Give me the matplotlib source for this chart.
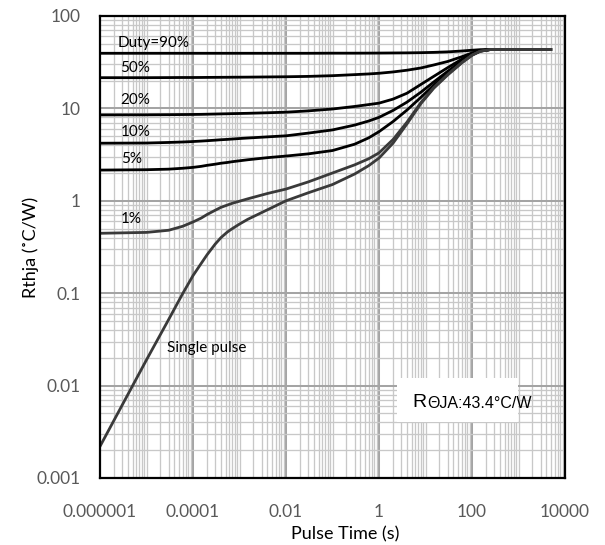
import matplotlib
matplotlib.use("Agg")
import matplotlib.pyplot as plt
import numpy as np
from matplotlib.ticker import LogLocator, FixedLocator, NullFormatter
from matplotlib.patches import Rectangle

plt.rcParams['font.family'] = ['Lato', 'DejaVu Sans']

# pulse time (s)
t = [1e-6, 1e-5, 3e-5, 6e-5, 1e-4, 1.5e-4, 2e-4, 3e-4, 4e-4, 5.5e-4, 7e-4, 1e-3, 1.5e-3, 4e-3,
     1e-2, 3e-2, 0.1, 0.3, 0.6, 1, 2, 4, 8, 15, 30, 60, 100, 150, 250, 5000]

# Rthja (C/W) for each duty cycle
r_90 = [39.5, 39.5, 39.5, 39.5, 39.5, 39.5, 39.5, 39.5, 39.5, 39.5, 39.5, 39.5, 39.5, 39.5,
        39.5, 39.5, 39.6, 39.6, 39.65, 39.7, 39.8, 39.9, 40.1, 40.4, 40.9, 41.8, 42.6, 43.2, 43.4, 43.4]
r_50 = [21.5, 21.5, 21.55, 21.6, 21.6, 21.62, 21.65, 21.68, 21.7, 21.72, 21.75, 21.77, 21.8, 21.9,
        22.0, 22.2, 22.6, 23.2, 23.6, 24.0, 24.8, 25.9, 27.4, 29.5, 32.2, 36.2, 39.8, 42.3, 43.4, 43.4]
r_20 = [8.5, 8.52, 8.55, 8.58, 8.6, 8.62, 8.65, 8.69, 8.72, 8.75, 8.78, 8.81, 8.85, 8.97,
        9.1, 9.4, 9.85, 10.5, 11.0, 11.4, 12.6, 14.6, 18.2, 22.2, 27.6, 34.0, 39.0, 42.0, 43.4, 43.4]
r_10 = [4.2, 4.22, 4.28, 4.33, 4.38, 4.43, 4.47, 4.53, 4.58, 4.62, 4.66, 4.72, 4.78, 4.92,
        5.05, 5.4, 5.85, 6.6, 7.3, 8.0, 9.5, 11.7, 15.0, 19.3, 25.2, 32.5, 38.3, 41.8, 43.4, 43.4]
r_5 = [2.15, 2.17, 2.2, 2.25, 2.3, 2.36, 2.42, 2.49, 2.55, 2.6, 2.65, 2.71, 2.78, 2.93,
       3.05, 3.22, 3.5, 4.1, 4.8, 5.6, 7.2, 9.6, 13.2, 17.8, 24.0, 31.8, 38.0, 41.7, 43.4, 43.4]
r_1 = [0.445, 0.455, 0.48, 0.53, 0.59, 0.65, 0.71, 0.79, 0.85, 0.9, 0.94, 0.99, 1.05, 1.2,
       1.34, 1.6, 2.0, 2.45, 2.85, 3.3, 4.6, 7.1, 11.6, 16.8, 23.3, 31.3, 37.8, 41.6, 43.4, 43.4]
r_single = [0.0022, 0.019, 0.052, 0.099, 0.155, 0.21, 0.26, 0.34, 0.4, 0.46, 0.5, 0.56, 0.63, 0.8,
            1.0, 1.22, 1.5, 1.95, 2.4, 2.9, 4.2, 6.8, 11.3, 16.5, 23.0, 31.0, 37.5, 41.5, 43.4, 43.4]

x_ticks = [1e-6, 1e-4, 1e-2, 1, 100, 10000]
x_labels = ["0.000001", "0.0001", "0.01", "1", "100", "10000"]
y_ticks = [0.001, 0.01, 0.1, 1, 10, 100]
y_labels = ["0.001", "0.01", "0.1", "1", "10", "100"]

fig = plt.figure(figsize=(6.05, 5.45), dpi=100)
ax = fig.add_axes([100/605, 1-478/545, 465/605, 462/545])

ax.set_xscale("log")
ax.set_yscale("log")
ax.set_xlim(1e-6, 1e4)
ax.set_ylim(0.001, 100)

# grid: dark major lines every 2 decades on x / every decade on y, light minor lines
ax.xaxis.set_major_locator(FixedLocator(x_ticks))
ax.xaxis.set_minor_locator(LogLocator(base=10, subs=np.arange(1, 10), numticks=100))
ax.yaxis.set_major_locator(FixedLocator(y_ticks))
ax.yaxis.set_minor_locator(LogLocator(base=10, subs=np.arange(1, 10), numticks=100))
ax.xaxis.set_minor_formatter(NullFormatter())
ax.yaxis.set_minor_formatter(NullFormatter())
ax.set_xticklabels(x_labels)
ax.set_yticklabels(y_labels)
ax.grid(which="minor", color="#c8c8c8", lw=0.95)
ax.grid(which="major", color="#a4a4a4", lw=1.45)
ax.set_axisbelow(True)

ax.tick_params(which="both", length=0)
ax.tick_params(axis="x", pad=19, labelsize=12.5, labelcolor="#595959")
ax.tick_params(axis="y", pad=14, labelsize=12.5, labelcolor="#595959")
for s in ax.spines.values():
    s.set_linewidth(1.6)
    s.set_color("black")
    s.set_zorder(5)

for r in [r_90, r_50, r_20, r_10, r_5]:
    ax.plot(t, r, color="black", lw=2.0, solid_capstyle="butt", zorder=3)
ax.plot(t, r_1, color="#3a3a3a", lw=2.0, zorder=3)
ax.plot(t, r_single, color="#3a3a3a", lw=2.0, zorder=3)

ax.set_xlabel("Pulse Time (s)", fontsize=13, color="black")
ax.set_ylabel("Rthja (˚C/W)", fontsize=13, color="black")
ax.xaxis.set_label_coords(0.527, -0.105)
ax.yaxis.set_label_coords(-0.131, 0.5)

# curve labels
lab_kw = dict(fontsize=11, color="black", va="center", ha="left", zorder=4)
ax.text(2.4e-6, 51, "Duty=90%", **lab_kw)
ax.text(2.7e-6, 27.5, "50%", **lab_kw)
ax.text(2.8e-6, 12.3, "20%", **lab_kw)
ax.text(2.8e-6, 5.6, "10%", **lab_kw)
ax.text(2.8e-6, 2.8, "5%", **lab_kw)
ax.text(2.8e-6, 0.635, "1%", **lab_kw)
ax.text(2.75e-5, 0.0255, "Single pulse", **lab_kw)

# thermal resistance note in a white box
ax.add_patch(Rectangle((0.639, 0.121), 0.26, 0.095, transform=ax.transAxes,
                       facecolor="white", edgecolor="none", zorder=2.5))
note_font = ["Liberation Sans Narrow", "Liberation Sans", "DejaVu Sans"]
rt = ax.text(0.671, 0.154, "R", fontsize=14, family=note_font, transform=ax.transAxes,
             va="baseline", ha="left", zorder=4)
ax.annotate("ΘJA:43.4°C/W", xy=(1, 0), xycoords=rt, xytext=(0.5, 0), textcoords="offset points",
            fontsize=11.5, family=note_font, va="bottom", ha="left", zorder=4)

fig.savefig("out.png", dpi=100)
